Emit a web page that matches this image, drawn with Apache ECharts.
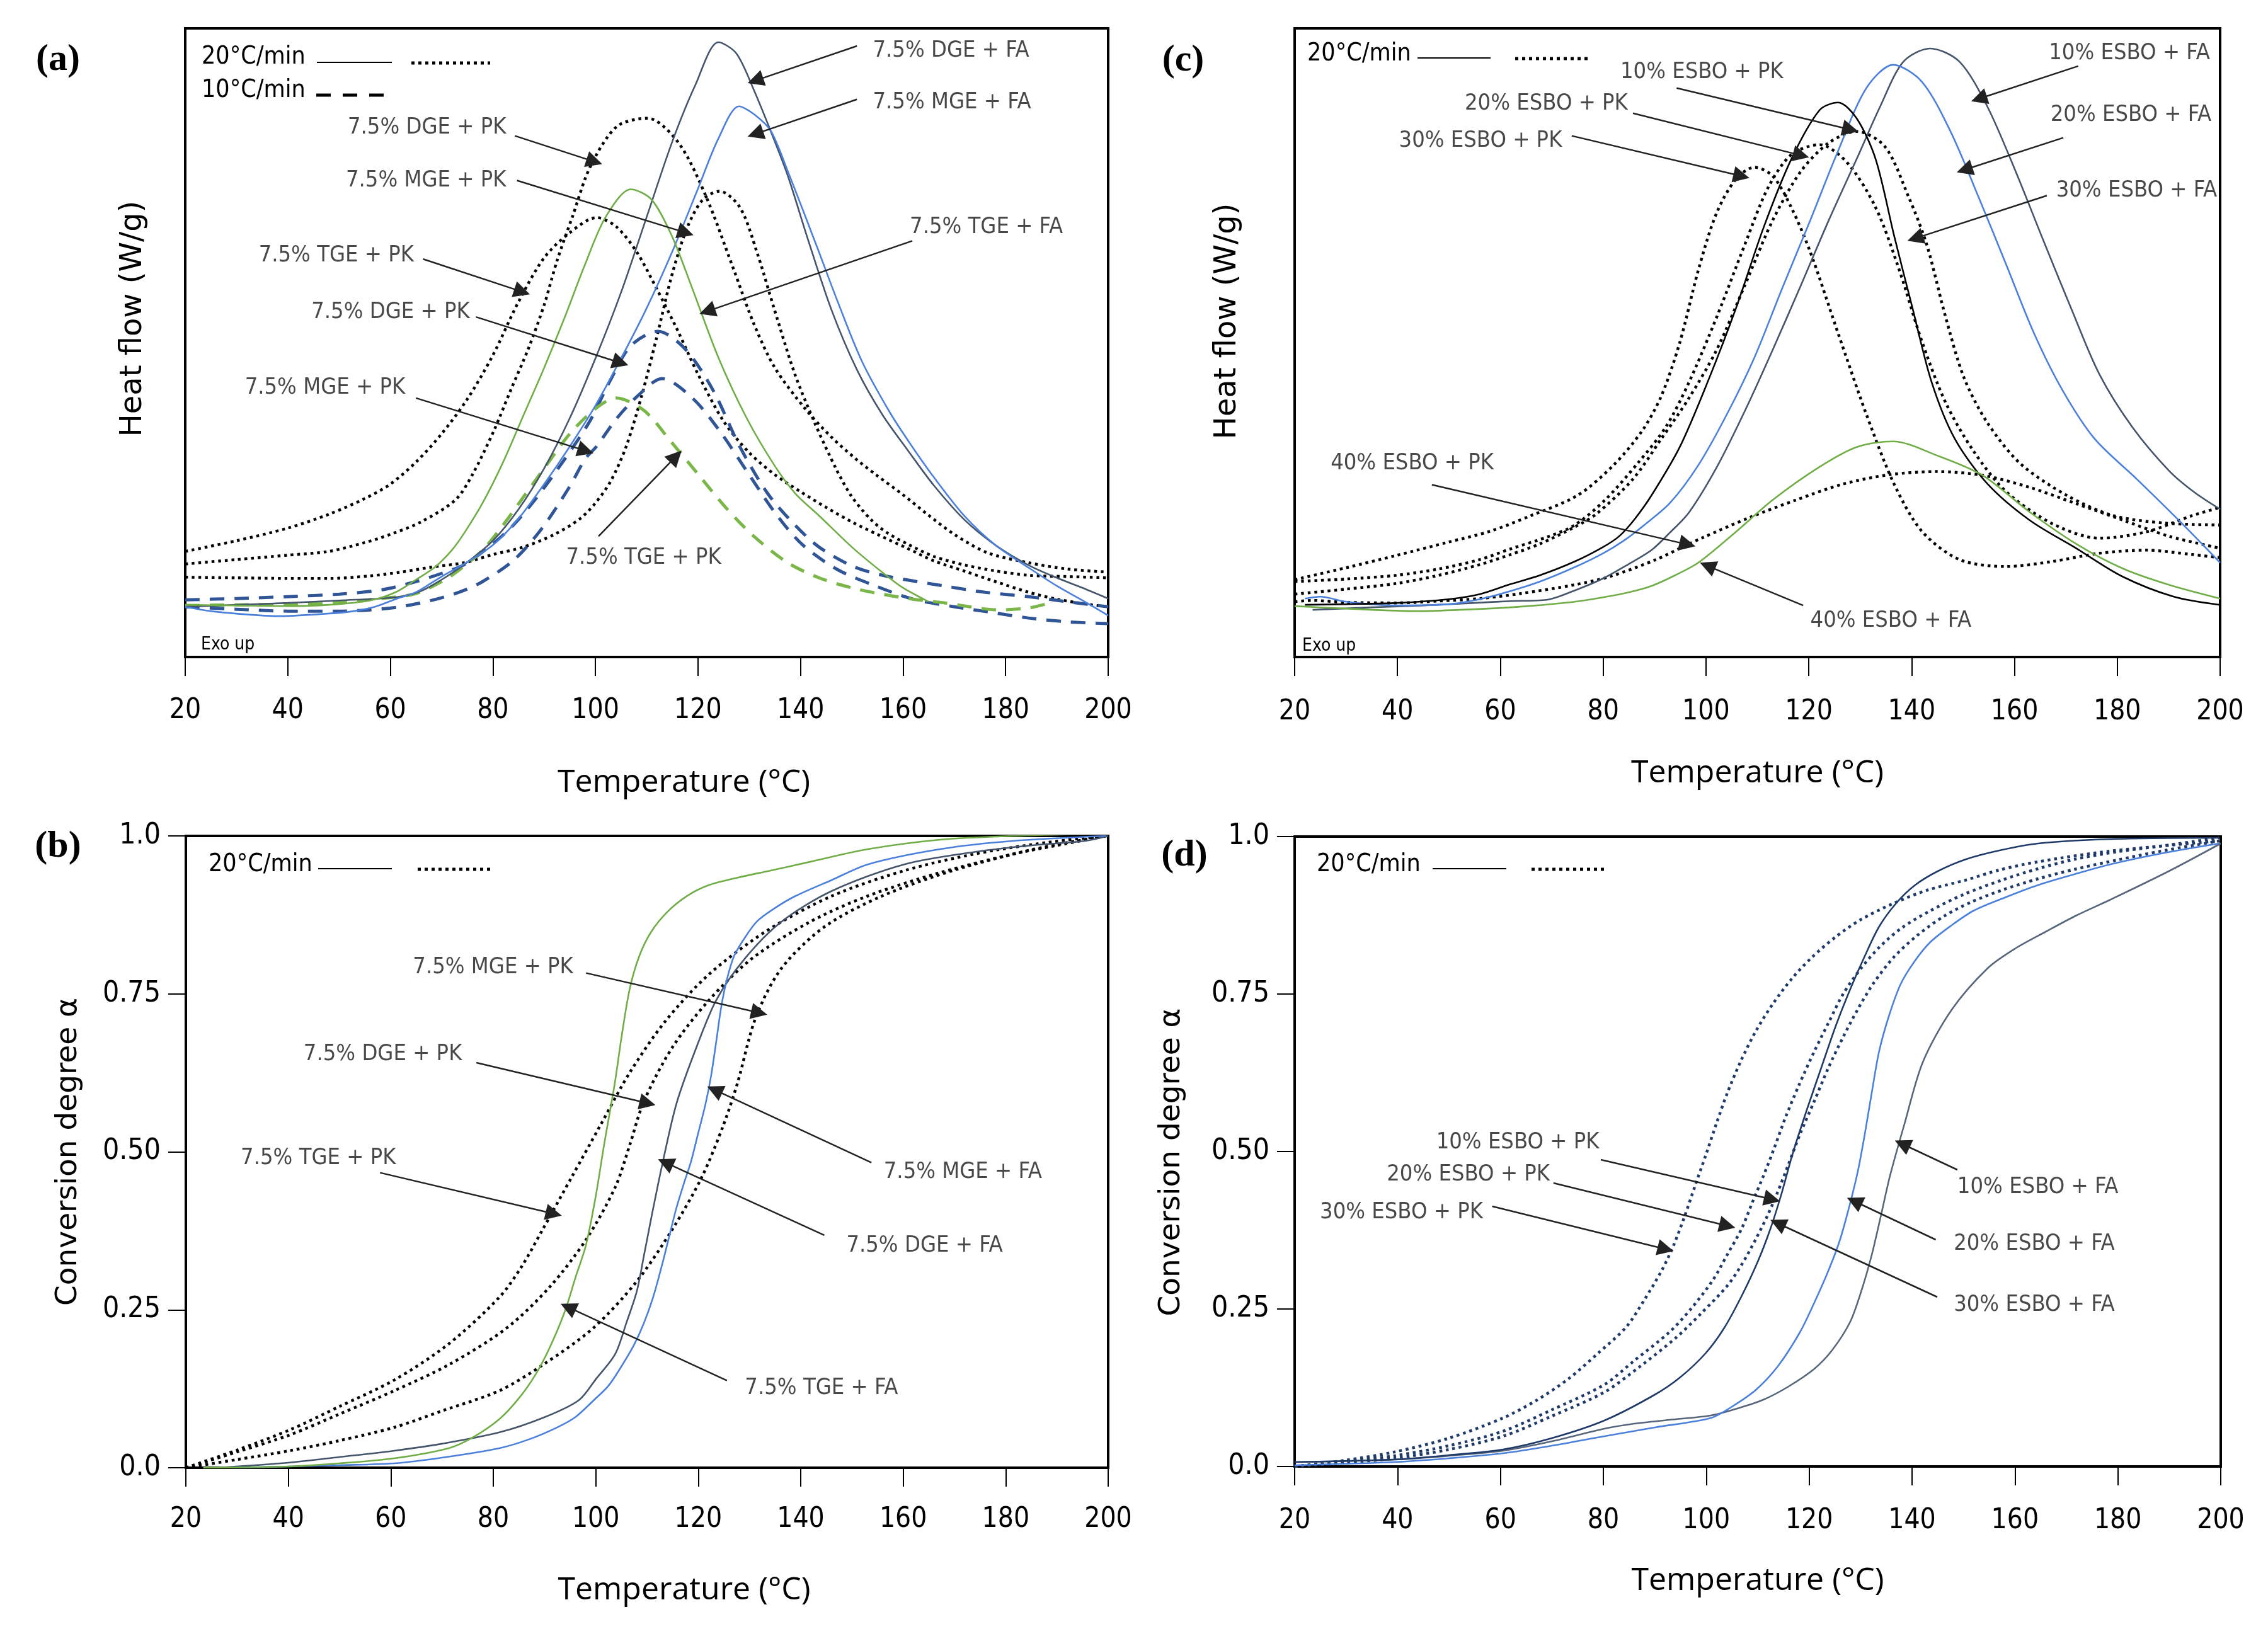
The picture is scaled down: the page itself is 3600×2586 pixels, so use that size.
<!DOCTYPE html>
<html>
<head>
<meta charset="utf-8">
<script src="https://cdn.jsdelivr.net/npm/echarts@6/dist/echarts.min.js"></script>
<style>html,body{margin:0;padding:0;background:#fff;}</style>
</head>
<body>
<div id="main" style="width:3600px;height:2586px;"></div>
<script type="text/javascript">

// ---- panel (a): heat flow, 7.5% glycidyl ethers (arbitrary units 0-100) ----
var aDgeFa = [[20,8],[30,8.3],[40,8.6],[50,9],[61,9.5],[66,10.5],[70,12.3],[74.4,14.7],[80,18.5],[85,23.5],[90,30],[95,38],[100,47.5],[105,58],[110,70],[115,82],[119.5,91],[124,97.8],[127.5,96],[131,90],[134.5,83],[137.5,76.6],[141.5,66.3],[146,55.3],[151,45.7],[156,38.5],[161,32.8],[166,27.3],[172,21.8],[178,17.8],[184.5,14.6],[190,12.6],[195,11],[200,9.3]];
var aMgeFa = [[20,8],[25,7.3],[30,6.9],[38,6.5],[46,6.8],[52,7.2],[57,8],[61,9.2],[65,10.3],[70,12.8],[74.4,14.8],[80,17.8],[85,22],[90,27.5],[95,33.5],[100,40],[105,47.5],[110,55.5],[115,64.5],[120,74.5],[124,82.5],[128,87.6],[131,86.3],[134.2,83.7],[137.5,77.3],[143,65.7],[147.5,56],[152,47],[157.5,38.8],[161.5,33.8],[166,28.6],[172,22.4],[178,17.8],[184.5,14.2],[190,11.3],[195,9],[200,6.6]];
var aTgeFa = [[20,8.3],[30,8.2],[40,8.1],[48,8.3],[56,9],[61,10.3],[65,12.3],[68.7,14.3],[72,17],[74.4,19.7],[78,24.5],[82,31],[86,38.5],[90,46],[94,54],[98,62.5],[102,70],[106.9,74.4],[110.9,72.8],[114.9,67],[118.9,58.6],[124,47.6],[129.5,38],[134.9,30.5],[139,26],[143.6,22.5],[150,17.5],[155.9,13.5],[160,11],[165,8.8]];
var aTgePk = [[20,16.8],[30,18.5],[40,20.5],[48,22.7],[55,25.2],[60,27.5],[65,31],[70,35.5],[75,41],[80,48],[85,56.5],[90,63.5],[95,67.5],[100.2,69.9],[104,68.5],[108,64.5],[112,58.5],[116,52],[120,45],[125,37.5],[130,32.5],[135,29],[140,26.3],[145,23.8],[150,21.5],[155,19.5],[160.8,17.3],[166,15.3],[172.2,13.6],[178,12],[184.5,10.3],[190,9.2],[196.8,8.3],[200,8]];
var aDgePk = [[20,14.8],[30,15.5],[40,16.2],[48,16.8],[55,18.2],[60,19.5],[66,21.5],[72.7,25],[76,29],[80.2,36],[83.5,42.5],[86.9,49],[90,56],[92.5,63],[95.5,70],[99,78],[104.2,84.4],[110.2,85.7],[116.2,81.8],[121.5,73.4],[126.9,61.8],[130.9,53],[135,46],[140.9,39.5],[146,35],[150.8,31.5],[154.7,29],[160,25.8],[164.9,22.6],[170,19.5],[176.4,16.6],[184.5,15],[192,14],[200,13.5]];
var aMgePk = [[20,12.7],[30,12.6],[40,12.5],[48,12.5],[56,12.9],[62,13.5],[68,14.3],[74.4,15],[80,16.3],[86,17.5],[92,19.5],[97,22],[100,24.5],[103,28],[106,33.5],[109,41.5],[112,51],[115,61],[118,68.5],[121,72.8],[124.2,74.1],[128.2,71.5],[131.5,64.4],[134.9,55.3],[138.9,45],[142.9,37],[146.9,30],[150,25.5],[153.8,21.8],[157,19.7],[160.8,18],[166,16],[172.2,14.6],[178,13.7],[184.5,13],[192,12.8],[200,12.6]];
var aDgePk10 = [[20,9.1],[30,9.3],[40,9.6],[50,10],[58.4,10.7],[65,12],[70,13.3],[74.4,14.7],[80,18],[84,21],[88.2,25],[93.6,31],[98.9,37.5],[102.9,44],[106.9,49.5],[112.2,51.8],[117.5,49],[122.9,42.5],[128.2,33.4],[133.6,26],[138.9,21],[143.6,17.5],[150,14.5],[156,13],[168,11.3],[176,10.3],[184.5,9.6],[192,8.8],[200,8]];
var aMgePk10 = [[20,8],[30,7.6],[40,7.3],[50,7.3],[56,7.5],[62,8],[68,9],[73.4,10.3],[78,12],[84.2,15.5],[89.6,20.5],[94.9,27],[98,31.5],[100.2,33.5],[104.2,38],[108.2,41.5],[113,44.3],[118.9,41.2],[124.2,36],[129.5,29.6],[134.9,23.1],[140.2,18],[147,14],[154,11.5],[162,9.2],[170,8],[176.4,7.2],[184.5,6.2],[192,5.6],[200,5.3]];
var aTgePk10 = [[20,8.2],[30,8.3],[40,8.4],[50,8.7],[58,9.3],[64.6,10],[70,12],[73.2,13.7],[78,17],[82,21],[86,25.5],[90,30],[95,35.5],[100,39.5],[104,41.2],[109.5,39.2],[114.9,34.1],[120.2,28.9],[125.5,23.7],[130.9,19.2],[137.5,15],[143.6,12.6],[150,11],[155.9,10],[162,9.2],[168.2,8.6],[173,8],[178.4,7.5],[184.5,7.8],[188.2,8.5]];

// ---- panel (c): heat flow, ESBO ----
var c10Fa = [[23.5,7.5],[35,7.9],[45,8.2],[55,8.6],[62,8.9],[69,9.1],[74.5,10.6],[80,12.5],[85,14.8],[89.4,17],[93,19.8],[96.7,23],[102.1,30.2],[107.6,39.2],[113,48.9],[118.5,59.2],[123.9,69.5],[129.3,79.2],[133.9,87.6],[138.4,94.7],[143.6,96.8],[149.3,94.7],[154.7,87.6],[160.2,77.3],[165.6,66.3],[171.1,55.3],[176.5,45],[182.9,36.6],[190.1,29.6],[195,26.2],[200,23.5]];
var c20Fa = [[22,9.3],[25,9.6],[30,8.8],[40,8.2],[50,8.4],[56,9.2],[62,10.5],[67.7,12],[74.5,14.3],[80,16.5],[84,18.5],[88,21],[93,24.5],[98.5,30.5],[104,38.5],[109.4,47.6],[114.8,58.6],[120.3,69.5],[125.7,80.5],[131.2,90.5],[136.4,94.2],[142,91.5],[147.5,83.7],[152.9,73.4],[158.4,62.4],[163.8,51.5],[169.3,42.5],[175.6,34.7],[183.8,28.3],[191.9,21.8],[200,15]];
var c30Fa = [[22,8.3],[30,8.4],[40,8.6],[50,9.2],[56,10],[62,11.6],[67.7,13],[74.5,15.2],[80,17.5],[83.1,19.2],[86,21.8],[89.4,25.7],[94.9,33.4],[100.3,43.7],[105.8,55.4],[111.2,68.3],[116.6,79.2],[122.1,87],[125.7,88.2],[129.3,85.7],[133,79.2],[136.6,67],[140.2,55.4],[143.9,43.7],[148.4,34.7],[154.7,27.6],[162.9,21.8],[172,17.3],[181,12.8],[191,9.6],[200,8.3]];
var c40Fa = [[20,8.1],[30,7.7],[44,7.3],[52,7.5],[60,7.8],[67,8.2],[74.5,8.8],[80,9.5],[85,10.3],[89.4,11.3],[94,13],[98.5,15],[105.8,19.9],[113,25],[122,30.2],[129.3,33.4],[136.4,34.3],[144.8,32.1],[153.8,28.9],[162.9,23.1],[172,18],[181,14.1],[190,11.5],[200,9.3]];
var c10Pk = [[20,10],[30,10.8],[39.8,11.7],[48,13],[56,14.7],[62,16.3],[67.7,18],[74.5,20.7],[78.6,22.7],[85.8,28.3],[91.3,34.7],[96.7,41.2],[102.1,48.9],[107.6,59.2],[113,69.5],[118.5,77.3],[123.9,81.8],[129.3,83.6],[134.8,81.2],[139.3,73.4],[142.9,65.7],[146.6,54.1],[150.2,44.4],[154.7,37.3],[161.1,30.8],[170.2,25.7],[179.2,22.5],[189.2,21.3],[200,21]];
var c20Pk = [[20,12],[30,12.4],[39.8,13],[48,14],[56,15.5],[62,17.2],[69.5,19.2],[74.5,21],[80.4,25],[86.7,30.8],[92.2,36.6],[96.7,43.7],[102.1,54.1],[107.6,65.7],[112.1,74.7],[116.6,79.9],[122.1,81.5],[127.5,78.6],[133,71.5],[137.5,61.8],[142,50.2],[146.6,40.5],[152,32.8],[158.4,26.3],[167.4,21.2],[176.5,18.9],[185.6,19.9],[194.6,22.5],[200,23.8]];
var c30Pk = [[20,12.3],[30,14.2],[40,16.2],[50,18.3],[58,20],[66,22.5],[75,25.7],[82,30.5],[87.6,36],[91.3,41.5],[94.9,50],[98.5,61.5],[102,70.5],[105.8,76],[109.4,77.9],[113,76.5],[116.6,71.5],[120.3,64.4],[125.7,51.5],[131.2,38.6],[136.6,27.5],[142,20],[149.3,15.5],[158.4,14.4],[167.4,15.2],[176.5,16.5],[185.6,17],[194.6,16.3],[200,15.8]];
var c40Pk = [[20,8.8],[23.4,9],[30,8.7],[39.8,8.6],[48,8.9],[56.1,9.3],[64,10.1],[74.5,11.5],[81.3,12.8],[90.3,15.5],[95.7,17.6],[99.4,19],[108.5,22.2],[117.6,25],[126.6,27.5],[135.7,29],[144.8,29.5],[153.8,28.9],[162.9,27],[172,24.4],[181,21.8],[190.1,19.2],[200,17.3]];

// ---- panel (b): conversion degree, glycidyl ethers ----
var bTgeFa = [[23.4,0],[40,0.002],[50,0.007],[60.7,0.015],[71.3,0.031],[76,0.048],[81.2,0.077],[85,0.11],[88.2,0.147],[91,0.19],[93.9,0.246],[96,0.3],[98.1,0.353],[100,0.43],[101.6,0.51],[103.7,0.608],[105,0.68],[106.6,0.757],[108.5,0.81],[110.8,0.848],[114,0.88],[117.8,0.905],[122,0.922],[127.7,0.934],[134,0.945],[141.8,0.959],[153.1,0.979],[167.2,0.994],[181.3,1],[197,1.003]];
var bDgeFa = [[26.2,0],[40,0.008],[50,0.017],[60.7,0.027],[70,0.038],[81.2,0.056],[90,0.08],[96.7,0.107],[100,0.14],[103.8,0.18],[106,0.23],[108,0.279],[109.5,0.34],[110.8,0.394],[112.9,0.477],[115.7,0.575],[119.3,0.658],[123.5,0.74],[129.1,0.806],[136.2,0.864],[146.1,0.913],[160.2,0.955],[174.3,0.975],[185,0.985],[195.4,0.992],[200,1]];
var bMgeFa = [[29,0],[40,0.002],[50,0.004],[60.7,0.007],[70,0.016],[81.2,0.031],[87,0.045],[92.5,0.064],[96,0.08],[99.5,0.106],[102.5,0.13],[105.2,0.163],[107.5,0.195],[109.4,0.229],[111.2,0.27],[112.9,0.32],[114.3,0.365],[115.7,0.41],[117.2,0.45],[118.6,0.485],[120,0.53],[121.4,0.575],[122.5,0.62],[123.5,0.674],[124.5,0.73],[125.6,0.773],[127,0.81],[129.1,0.839],[131.5,0.865],[134.8,0.885],[139,0.905],[146,0.93],[153.1,0.955],[167.2,0.979],[181.3,0.992],[199.6,1]];
var bTgePk = [[20,0],[30,0.028],[40.3,0.06],[50,0.097],[60.7,0.139],[71.3,0.196],[81.2,0.27],[85.5,0.318],[89.7,0.378],[95.3,0.46],[100.9,0.542],[106.6,0.625],[113.6,0.707],[122.1,0.781],[133.4,0.85],[146.1,0.905],[160.2,0.945],[174.3,0.972],[188.4,0.99],[199.6,1]];
var bDgePk = [[20,0],[30,0.025],[40.3,0.052],[50,0.085],[60.7,0.122],[71.3,0.163],[82.6,0.221],[91.1,0.287],[98.1,0.361],[103.8,0.444],[106.6,0.51],[109.4,0.58],[115,0.666],[122.1,0.74],[130.5,0.806],[141.8,0.864],[153.1,0.905],[167.2,0.942],[181.3,0.971],[190,0.985],[199.6,1]];
var bMgePk = [[20,0],[30,0.013],[40.3,0.027],[50,0.043],[60.7,0.064],[70,0.09],[81.2,0.122],[89.7,0.163],[99.5,0.221],[108,0.295],[115,0.378],[120.7,0.46],[124.9,0.542],[127.7,0.61],[131.2,0.712],[136.2,0.79],[144.6,0.856],[155.9,0.905],[170,0.946],[185.5,0.979],[199.6,1]];

// ---- panel (d): conversion degree, ESBO ----
var d10Fa = [[20,0.007],[39.4,0.011],[50,0.017],[60.5,0.025],[70,0.04],[80.2,0.06],[86,0.068],[92.8,0.074],[100.9,0.081],[106,0.092],[111.1,0.106],[116,0.127],[121,0.155],[124.5,0.185],[128,0.23],[130.2,0.28],[132.2,0.337],[134,0.4],[135.7,0.461],[138.5,0.543],[142.1,0.642],[147.7,0.725],[154.7,0.791],[160,0.822],[166,0.849],[172,0.875],[178.6,0.9],[189.9,0.945],[200,0.989]];
var d20Fa = [[20,0.002],[39.4,0.007],[50,0.013],[60.5,0.021],[70,0.033],[80.2,0.048],[90,0.062],[100.9,0.077],[105,0.095],[109.7,0.122],[114,0.16],[118.2,0.213],[121,0.26],[123.8,0.312],[126,0.36],[128,0.419],[129.5,0.47],[130.8,0.527],[132.2,0.595],[133.6,0.659],[135.5,0.715],[137.8,0.766],[140.5,0.802],[143.5,0.832],[147.5,0.858],[151.9,0.882],[158,0.903],[164.5,0.923],[171.5,0.94],[178.6,0.956],[189,0.974],[199.7,0.989]];
var d30Fa = [[20,0.007],[39.4,0.011],[50,0.018],[60.5,0.027],[70,0.045],[80.2,0.073],[90,0.114],[95,0.142],[99.9,0.18],[103.5,0.22],[106.9,0.271],[110,0.325],[112.5,0.378],[114.7,0.435],[116.7,0.494],[119.5,0.565],[122.4,0.634],[125.2,0.7],[128,0.758],[130.8,0.81],[133.6,0.857],[137,0.895],[140.6,0.923],[145,0.945],[150.5,0.964],[157,0.978],[164.5,0.989],[178.6,0.996],[199.7,0.998]];
var d10Pk = [[20,0],[30,0.006],[39.4,0.013],[50,0.027],[60.5,0.048],[70,0.08],[80.2,0.118],[87,0.158],[94.2,0.205],[99,0.243],[104.1,0.287],[107,0.322],[109.7,0.362],[112,0.4],[113.9,0.436],[116,0.48],[118.2,0.527],[121,0.58],[123.8,0.634],[126.5,0.68],[129.4,0.725],[132.5,0.767],[136.4,0.808],[141,0.843],[146.3,0.874],[151.5,0.896],[157.5,0.915],[164.5,0.933],[171.6,0.948],[180,0.963],[188.5,0.977],[199.7,0.993]];
var d20Pk = [[20,0],[30,0.008],[39.4,0.017],[50,0.033],[60.5,0.056],[70,0.09],[80.2,0.13],[86,0.168],[92.8,0.213],[97,0.25],[101.3,0.296],[104,0.335],[106.9,0.378],[109,0.42],[111.1,0.461],[113.2,0.505],[115.3,0.552],[118,0.605],[121,0.659],[123.8,0.705],[126.6,0.75],[130,0.79],[133.6,0.824],[138,0.855],[143.5,0.882],[150,0.908],[157.5,0.931],[164.5,0.949],[171.6,0.964],[180,0.976],[188.5,0.985],[199.7,0.998]];
var d30Pk = [[20,0],[25,0.005],[30,0.01],[39.4,0.023],[50,0.045],[60.5,0.077],[67,0.105],[73.2,0.139],[79,0.18],[84.4,0.221],[88,0.265],[91.4,0.312],[93.6,0.35],[95.7,0.395],[97.8,0.445],[99.9,0.494],[102,0.545],[104.1,0.593],[106.8,0.645],[109.7,0.692],[113,0.735],[116.7,0.775],[120.5,0.808],[125.2,0.841],[130,0.868],[136.4,0.894],[143,0.915],[150.5,0.931],[157,0.947],[164.5,0.96],[178.6,0.977],[199.7,0.993]];

// x ticks and conversion tick labels
var tempTicks = [20, 200, 20];            // min, max, step
var alphaTicks = ['0.0', '0.25', '0.50', '0.75', '1.0'];

// annotations: text, text anchor [T, y], side, arrow from [T, y] to [T, y]
var annA = [
  ['7.5% DGE + FA', 154.1, 96.4, 'right', 151, 97.2, 131.2, 91.7],
  ['7.5% MGE + FA', 154.1, 88.2, 'right', 151, 88.7, 131.2, 83.2],
  ['7.5% DGE + PK', 82.6, 84.2, 'left', 84.3, 82.9, 99.8, 78.8],
  ['7.5% MGE + PK', 82.6, 75.8, 'left', 84.7, 75.8, 117.6, 67.5],
  ['7.5% TGE + FA', 161.3, 68.4, 'right', 161.8, 66.2, 121.8, 55.0],
  ['7.5% TGE + PK', 64.6, 63.9, 'left', 66.4, 63.3, 85.7, 58.1],
  ['7.5% DGE + PK', 75.5, 54.8, 'left', 76.7, 54.1, 104.9, 46.8],
  ['7.5% MGE + PK', 62.9, 42.8, 'left', 65, 41.2, 98.1, 32.8],
  ['7.5% TGE + PK', 109.4, 15.8, 'inside', 100.6, 19.2, 115.7, 31.9]
];
var annB = [
  ['7.5% MGE + PK', 64.3, 0.792, 'right', 98.1, 0.783, 131.9, 0.72],
  ['7.5% DGE + PK', 73.9, 0.654, 'left', 76.7, 0.641, 110.1, 0.577],
  ['7.5% TGE + PK', 61, 0.49, 'left', 57.9, 0.467, 91.8, 0.402],
  ['7.5% MGE + FA', 156.2, 0.468, 'right', 153.8, 0.483, 123.2, 0.598],
  ['7.5% DGE + FA', 148.9, 0.351, 'right', 144.6, 0.368, 113.6, 0.483],
  ['7.5% TGE + FA', 129.1, 0.126, 'right', 125.6, 0.138, 94.6, 0.254]
];
var annC = [
  ['10% ESBO + FA', 166.7, 96, 'right', 172.4, 94, 153.1, 88.8],
  ['20% ESBO + FA', 167, 86.2, 'right', 169.5, 82.6, 150.3, 77.5],
  ['30% ESBO + FA', 168.1, 74.2, 'right', 166.3, 73.4, 140.7, 66.6],
  ['10% ESBO + PK', 99.2, 93, 'inside', 94.3, 90.5, 128.1, 83.9],
  ['20% ESBO + PK', 84.8, 88, 'left', 85.8, 86.5, 118.5, 79.8],
  ['30% ESBO + PK', 72, 82.1, 'left', 73.9, 82.9, 106.9, 76.5],
  ['40% ESBO + PK', 27, 30.8, 'right', 46.7, 27.4, 96.4, 17.9],
  ['40% ESBO + FA', 120.3, 5.7, 'right', 118.9, 8.2, 100.3, 14.5]
];
var annD = [
  ['10% ESBO + PK', 79.2, 0.514, 'left', 79.5, 0.487, 112.8, 0.424],
  ['20% ESBO + PK', 69.6, 0.463, 'left', 70.3, 0.45, 104.1, 0.382],
  ['30% ESBO + PK', 56.6, 0.403, 'left', 58.4, 0.413, 92.1, 0.345],
  ['10% ESBO + FA', 148.8, 0.443, 'right', 148.8, 0.471, 138.1, 0.512],
  ['20% ESBO + FA', 148.1, 0.353, 'right', 144.6, 0.36, 128.8, 0.421],
  ['30% ESBO + FA', 148.1, 0.256, 'right', 144.9, 0.269, 113.9, 0.386]
];

var NARROW = '"Liberation Sans Narrow", "Arial Narrow", "DejaVu Sans Condensed", sans-serif';
var SLATE = '#44546a', BLUE = '#4a80dc', GREEN = '#70ad47', DBLUE = '#2f5597', NAVY = '#1f3a68';

function curve(data, g, color, kind) {
    var ls = {color: color, width: 2.6, type: 'solid'};
    if (kind === 'dot') ls = {color: color, width: 4.5, type: [4.5, 6], cap: 'butt'};
    if (kind === 'dash') ls = {color: color, width: 5, type: [23, 16], cap: 'butt'};
    return {
        type: 'line', xAxisIndex: g, yAxisIndex: g, data: data,
        smooth: 0.3, showSymbol: false, symbol: 'none', silent: true,
        lineStyle: ls, z: kind === 'solid' ? 3 : 2
    };
}

function notes(list, g) {
    return [{
        type: 'scatter', xAxisIndex: g, yAxisIndex: g, symbolSize: 0, silent: true, z: 5,
        data: list.map(function (a) {
            return {value: [a[1], a[2]], name: a[0],
                label: {position: a[3], distance: 0}};
        }),
        label: {show: true, formatter: '{b}', fontFamily: NARROW, fontSize: 36, color: '#1a1a1a'}
    }, {
        type: 'lines', coordinateSystem: 'cartesian2d', xAxisIndex: g, yAxisIndex: g,
        silent: true, z: 6, symbol: ['none', 'triangle'], symbolSize: 26,
        lineStyle: {color: '#222', width: 2.5, opacity: 1, curveness: 0},
        data: list.map(function (a) { return {coords: [[a[4], a[5]], [a[6], a[7]]]}; })
    }];
}

var grids = [
    {left: 294, top: 45, width: 1465, height: 998},
    {left: 295, top: 1327, width: 1464, height: 1003},
    {left: 2055, top: 45, width: 1469, height: 998},
    {left: 2055, top: 1328, width: 1470, height: 1000}
];
grids.forEach(function (g) { g.show = true; g.borderColor = '#000'; g.borderWidth = 4; });

var xGap = [200, 195, 185, 182], xLab = [64, 61, 66, 65], xPad = [118, 118, 0, 0];
var xAxes = grids.map(function (g, i) {
    return {
        type: 'value', gridIndex: i, min: tempTicks[0], max: tempTicks[1], interval: tempTicks[2],
        axisLine: {show: true, onZero: false, lineStyle: {color: '#000', width: 4}},
        axisTick: {show: true, length: 30, lineStyle: {color: '#000', width: 2}},
        axisLabel: {fontFamily: NARROW, fontSize: 44, color: '#000', margin: xLab[i], showMinLabel: true, showMaxLabel: true},
        splitLine: {show: false},
        name: 'Temperature (°C)', nameLocation: 'middle', nameGap: xGap[i],
        nameTextStyle: {fontFamily: '"Open Sans", sans-serif', fontSize: 50, color: '#000',
            verticalAlign: 'middle', padding: [0, 0, 0, xPad[i]]}
    };
});

function heatAxis(i, gap, pad) {
    return {
        type: 'value', gridIndex: i, min: 0, max: 100,
        axisLine: {show: true, lineStyle: {color: '#000', width: 4}},
        axisTick: {show: false}, axisLabel: {show: false}, splitLine: {show: false},
        name: 'Heat flow (W/g)', nameLocation: 'middle', nameGap: gap,
        nameTextStyle: {fontFamily: '"DejaVu Sans", sans-serif', fontSize: 48, color: '#000',
            verticalAlign: 'middle', padding: pad}
    };
}
function alphaAxis(i, gap, pad) {
    return {
        type: 'value', gridIndex: i, min: 0, max: 1, interval: 0.25,
        axisLine: {show: true, lineStyle: {color: '#000', width: 4}},
        axisTick: {show: true, length: 28, lineStyle: {color: '#000', width: 2}},
        axisLabel: {fontFamily: NARROW, fontSize: 46, color: '#000', margin: 40,
            formatter: function (v) { return alphaTicks[Math.round(v * 4)]; }},
        splitLine: {show: false},
        name: 'Conversion degree α', nameLocation: 'middle', nameGap: gap,
        nameTextStyle: {fontFamily: '"DejaVu Sans", sans-serif', fontSize: 47, color: '#000',
            verticalAlign: 'middle', padding: pad}
    };
}
var yAxes = [
    heatAxis(0, 82, [0, 0, 0, 76]),
    alphaAxis(1, 186, [0, 0, 0, 0]),
    heatAxis(2, 106, [0, 0, 0, 68]),
    alphaAxis(3, 195, [0, 34, 0, 0])
];

var series = [
    // (a)
    curve(aTgePk, 0, '#000', 'dot'), curve(aDgePk, 0, '#000', 'dot'), curve(aMgePk, 0, '#000', 'dot'),
    curve(aDgePk10, 0, DBLUE, 'dash'), curve(aMgePk10, 0, DBLUE, 'dash'), curve(aTgePk10, 0, '#7ab648', 'dash'),
    curve(aDgeFa, 0, SLATE, 'solid'), curve(aMgeFa, 0, BLUE, 'solid'), curve(aTgeFa, 0, GREEN, 'solid'),
    // (b)
    curve(bTgePk, 1, '#000', 'dot'), curve(bDgePk, 1, '#000', 'dot'), curve(bMgePk, 1, '#000', 'dot'),
    curve(bDgeFa, 1, SLATE, 'solid'), curve(bMgeFa, 1, BLUE, 'solid'), curve(bTgeFa, 1, GREEN, 'solid'),
    // (c)
    curve(c10Pk, 2, '#000', 'dot'), curve(c20Pk, 2, '#000', 'dot'), curve(c30Pk, 2, '#000', 'dot'), curve(c40Pk, 2, '#000', 'dot'),
    curve(c10Fa, 2, SLATE, 'solid'), curve(c20Fa, 2, BLUE, 'solid'), curve(c30Fa, 2, '#000', 'solid'), curve(c40Fa, 2, GREEN, 'solid'),
    // (d)
    curve(d10Pk, 3, NAVY, 'dot'), curve(d20Pk, 3, NAVY, 'dot'), curve(d30Pk, 3, NAVY, 'dot'),
    curve(d10Fa, 3, '#56657a', 'solid'), curve(d20Fa, 3, BLUE, 'solid'), curve(d30Fa, 3, NAVY, 'solid')
].concat(notes(annA, 0), notes(annB, 1), notes(annC, 2), notes(annD, 3));

// decorations: panel letters, heating-rate keys, "Exo up"
function txt(s, x, y, font, align) {
    return {type: 'text', z: 10, silent: true,
        style: {text: s, x: x, y: y, font: font, fill: '#000', align: align || 'left', textAlign: align || 'left',
            verticalAlign: 'middle', textVerticalAlign: 'middle'}};
}
function seg(x1, x2, y, width, dash) {
    return {type: 'line', z: 10, silent: true, shape: {x1: x1, y1: y, x2: x2, y2: y},
        style: {stroke: '#000', lineWidth: width, lineDash: dash || null}};
}
var LETTER = 'bold 60px "Liberation Serif", serif';
var KEY = '39px ' + NARROW;
var graphic = [
    txt('(a)', 92, 95, LETTER, 'center'), txt('(b)', 92, 1344, LETTER, 'center'),
    txt('(c)', 1878, 96, LETTER, 'center'), txt('(d)', 1880, 1358, LETTER, 'center'),
    txt('20°C/min', 320, 91, KEY), seg(503, 622, 99, 2), seg(653, 778, 100, 5, [5, 6]),
    txt('10°C/min', 320, 144, KEY), seg(502, 609, 151, 5, [23, 19]),
    txt('20°C/min', 2075, 86, KEY), seg(2250, 2366, 92, 2), seg(2405, 2520, 93, 5, [5, 6]),
    txt('20°C/min', 331, 1373, KEY), seg(505, 622, 1379, 2), seg(663, 781, 1380, 5, [5, 6]),
    txt('20°C/min', 2090, 1373, KEY), seg(2274, 2391, 1379, 2), seg(2431, 2548, 1380, 5, [5, 6]),
    txt('Exo up', 319, 1024, '28px ' + NARROW), txt('Exo up', 2067, 1026, '28px ' + NARROW)
];

var myChart = echarts.init(document.getElementById('main'));
myChart.setOption({
    animation: false,
    backgroundColor: '#fff',
    grid: grids,
    xAxis: xAxes,
    yAxis: yAxes,
    series: series,
    graphic: graphic
});

</script>
</body>
</html>
